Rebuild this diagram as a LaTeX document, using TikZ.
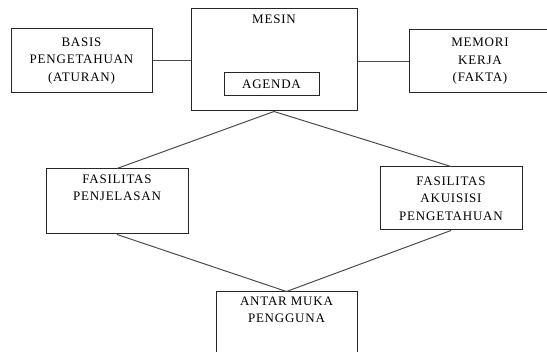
\documentclass[tikz,border=0pt]{standalone}
\usepackage{fontspec}
\setmainfont{Liberation Serif}[LetterSpace=6]
\usepackage{tikz}
\usetikzlibrary{
    calc,
    positioning
}

\begin{document}
\begin{tikzpicture}[x=1pt, y=-1pt,
    box/.style={draw=black!85, line width=1pt, rectangle, inner sep=0pt,
                align=center, font=\fontsize{13}{17.5}\selectfont},
    toplabel/.style={anchor=north, align=center, inner sep=0pt,
                font=\fontsize{13}{17.5}\selectfont},
    link/.style={draw=black!70, line width=1pt}
]
                        \useasboundingbox (0, 0) rectangle (547, 352);
                        \clip (0, 0) rectangle (547, 352);
                        % upper row
                        \node[box, minimum width=141, minimum height=64] (basis) at (81.5, 61)
                            {BASIS\\PENGETAHUAN\\(ATURAN)};
                        \node[box, minimum width=166, minimum height=102,
                              label={[toplabel, yshift=-6]north:MESIN}] (mesin) at (274, 60) {};
                        \node[box, minimum width=95, minimum height=23] (agenda) at (271.5, 84.5) {AGENDA};
                        \node[box, minimum width=142, minimum height=63] (memori) at (480, 61.5)
                            {MEMORI\\KERJA\\(FAKTA)};
                        % middle row
                        \node[box, minimum width=142, minimum height=65,
                              label={[toplabel, yshift=-6]north:FASILITAS\\PENJELASAN}] (penjelasan) at (117, 201.5) {};
                        \node[box, minimum width=142, minimum height=63] (akuisisi) at (451, 198.5)
                            {FASILITAS\\AKUISISI\\PENGETAHUAN};
                        % bottom
                        \node[box, minimum width=141, minimum height=80,
                              label={[toplabel, yshift=-5]north:ANTAR MUKA\\PENGGUNA}] (antarmuka) at (286.5, 332) {};
                        % connectors
                        \draw[link] (basis.east) -- (mesin.west |- basis.east);
                        \draw[link] (mesin.east |- memori.west) -- (memori.west);
                        \draw[link] (mesin.south) -- (penjelasan.north);
                        \draw[link] (mesin.south) -- (akuisisi.north);
                        \draw[link] (penjelasan.south) -- (antarmuka.north);
                        \draw[link] (akuisisi.south) -- (antarmuka.north);
                    \end{tikzpicture}
\end{document}
